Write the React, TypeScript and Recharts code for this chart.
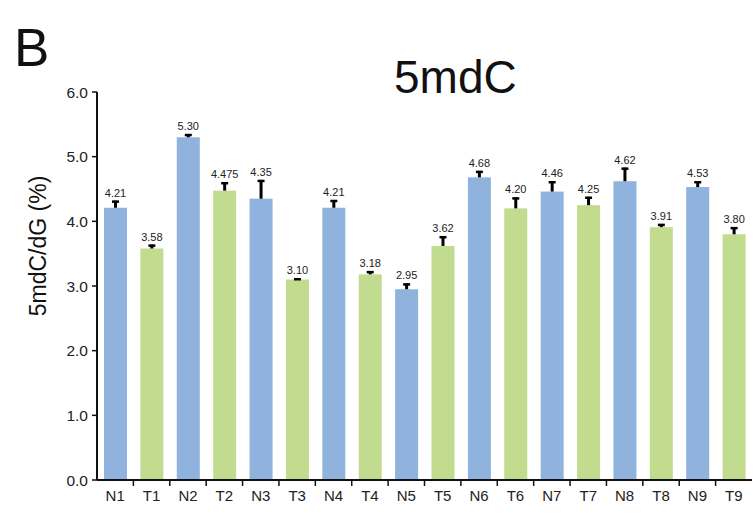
import React from "react";
import { BarChart, Bar, Cell, XAxis, YAxis, LabelList } from "recharts";

const categories = ["N1", "T1", "N2", "T2", "N3", "T3", "N4", "T4", "N5", "T5", "N6", "T6", "N7", "T7", "N8", "T8", "N9", "T9"];
const values = [4.21, 3.58, 5.3, 4.475, 4.35, 3.1, 4.21, 3.18, 2.95, 3.62, 4.68, 4.2, 4.46, 4.25, 4.62, 3.91, 4.53, 3.8];
const errors = [0.11, 0.06, 0.05, 0.13, 0.29, 0.02, 0.12, 0.05, 0.09, 0.15, 0.1, 0.17, 0.16, 0.13, 0.21, 0.05, 0.09, 0.11];
const yTicks = [0, 1, 2, 3, 4, 5, 6];

const BLUE = "#8fb3dc";
const GREEN = "#c2dc8f";
const FONT = "'Liberation Sans', Arial, sans-serif";
const NARROW = "'Liberation Sans Narrow', 'Arial Narrow', 'Liberation Sans', sans-serif";

const W = 754;
const H = 513;
const PLOT_LEFT = 97;
const PLOT_RIGHT = 752;
const PLOT_TOP = 92;
const PLOT_BOTTOM = 480;
const BAND = (PLOT_RIGHT - PLOT_LEFT) / categories.length;

const data = categories.map((name, i) => ({
  name,
  value: values[i],
  err: errors[i],
}));

// keep at least two decimals, but never drop digits (4.475 stays 4.475)
const fmt = (v: number) => {
  const dec = (String(v).split(".")[1] || "").length;
  return v.toFixed(Math.max(2, dec));
};

// pixel length of the upper error, using the bar's own px-per-unit
const errPixels = (index: number, height: number) => (errors[index] * height) / values[index];

// bar rect plus a one-sided (upward) T-shaped error bar
const BarWithError = (props: any) => {
  const { x, y, width, height, fill, index } = props;
  const cx = x + width / 2;
  const top = y - errPixels(index, height);
  return (
    <g>
      <rect x={x} y={y} width={width} height={height} fill={fill} />
      <line x1={cx} x2={cx} y1={y} y2={top} stroke="#000" strokeWidth={3} />
      <line x1={cx - 3.5} x2={cx + 3.5} y1={top + 1} y2={top + 1} stroke="#000" strokeWidth={2.5} />
    </g>
  );
};

const ValueLabel = (props: any) => {
  const { x, y, width, height, index } = props;
  return (
    <text
      x={x + width / 2}
      y={y - errPixels(index, height) - 4}
      textAnchor="middle"
      fontSize={11}
      fontFamily={NARROW}
      fill="#222"
    >
      {fmt(values[index])}
    </text>
  );
};

const XTick = (props: any) => {
  const { x, payload, index } = props;
  return (
    <g>
      {index < categories.length - 1 && (
        <line
          x1={x + BAND / 2}
          x2={x + BAND / 2}
          y1={PLOT_BOTTOM}
          y2={PLOT_BOTTOM + 6}
          stroke="#111"
          strokeWidth={1.5}
        />
      )}
      <text x={x} y={PLOT_BOTTOM + 21} textAnchor="middle" fontSize={15} fontFamily={FONT} fill="#222">
        {payload.value}
      </text>
    </g>
  );
};

export default function App() {
  return (
    <div style={{ position: "absolute", left: 0, top: 0, width: W, height: H, background: "#fff" }}>
      <div
        style={{
          position: "absolute",
          left: 14,
          top: 18,
          fontSize: 53,
          lineHeight: "60px",
          fontFamily: FONT,
          color: "#111",
        }}
      >
        B
      </div>
      <div
        style={{
          position: "absolute",
          left: 394,
          top: 49,
          fontSize: 46,
          lineHeight: "56px",
          fontFamily: FONT,
          color: "#111",
        }}
      >
        5mdC
      </div>
      <BarChart
        width={W}
        height={H}
        data={data}
        margin={{ top: PLOT_TOP, right: W - PLOT_RIGHT, bottom: 0, left: 0 }}
        barSize={23}
      >
        <XAxis
          dataKey="name"
          height={H - PLOT_BOTTOM}
          axisLine={{ stroke: "#111", strokeWidth: 2 }}
          tickLine={false}
          tick={<XTick />}
          interval={0}
        />
        <YAxis
          width={PLOT_LEFT}
          domain={[0, 6]}
          ticks={yTicks}
          tickFormatter={(t: number) => t.toFixed(1)}
          axisLine={{ stroke: "#111", strokeWidth: 2 }}
          tickLine={{ stroke: "#111", strokeWidth: 1.5 }}
          tickSize={5}
          tickMargin={4}
          tick={{ fontSize: 15.5, fontFamily: FONT, fill: "#222" }}
          label={{
            value: "5mdC/dG (%)",
            angle: -90,
            position: "insideLeft",
            dx: 33,
            dy: -40,
            style: { fontSize: 23, fontFamily: FONT, fill: "#111", textAnchor: "middle" },
          }}
        />
        <Bar dataKey="value" isAnimationActive={false} shape={<BarWithError />}>
          {data.map((d, i) => (
            <Cell key={`cell-${i}`} fill={d.name.startsWith("N") ? BLUE : GREEN} />
          ))}
          <LabelList dataKey="value" content={<ValueLabel />} />
        </Bar>
      </BarChart>
    </div>
  );
}
